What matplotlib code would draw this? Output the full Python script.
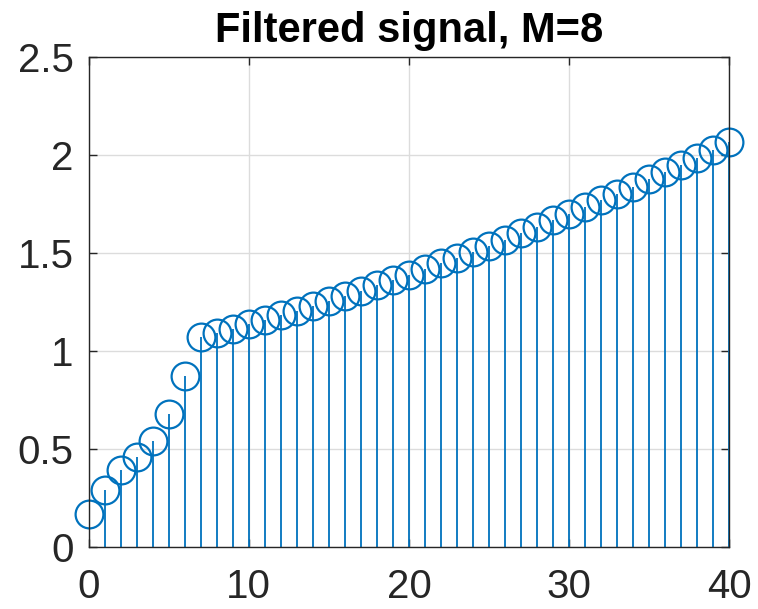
import matplotlib.pyplot as plt
import numpy as np

# filtered signal y[n], n = 0..40
n = np.arange(41)
y = [0.168, 0.29, 0.39, 0.46, 0.54, 0.68, 0.87,
     1.070, 1.091, 1.113, 1.136, 1.158, 1.182, 1.206, 1.231, 1.256, 1.282,
     1.308, 1.335, 1.362, 1.390, 1.419, 1.448, 1.477, 1.507, 1.538, 1.569,
     1.601, 1.634, 1.667, 1.700, 1.734, 1.769, 1.804, 1.840, 1.876, 1.913,
     1.950, 1.988, 2.027, 2.066]

xticks = [0, 10, 20, 30, 40]
yticks = [0, 0.5, 1, 1.5, 2, 2.5]

plt.rcParams['font.family'] = ['Liberation Sans', 'DejaVu Sans']
blue = '#0072BD'

fig = plt.figure(figsize=(7.58, 6.09), dpi=100)
ax = fig.add_axes([0.117, 0.102, 0.845, 0.804])

markers, stems, base = ax.stem(n, y)
plt.setp(stems, color=blue, linewidth=1.3)
plt.setp(markers, color=blue, marker='o', markersize=20, markerfacecolor='none',
         markeredgewidth=1.6, clip_on=False)
base.set_visible(False)

ax.set_xlim(0, 40)
ax.set_ylim(0, 2.5)
ax.set_xticks(xticks)
ax.set_yticks(yticks)
ax.set_yticklabels(['0', '0.5', '1', '1.5', '2', '2.5'])
ax.grid(True, color='#dcdcdc', linewidth=1)
ax.set_axisbelow(True)
ax.tick_params(direction='in', length=6, width=1, labelsize=29, top=True, right=True,
               colors='#262626')
ax.tick_params(axis='x', pad=15)
ax.tick_params(axis='y', pad=11)
for s in ax.spines.values():
    s.set_color('#262626')
    s.set_linewidth(1)

ax.set_title('Filtered signal, M=8', fontsize=30, fontweight='bold', pad=11)

fig.savefig('out.png', dpi=100)
